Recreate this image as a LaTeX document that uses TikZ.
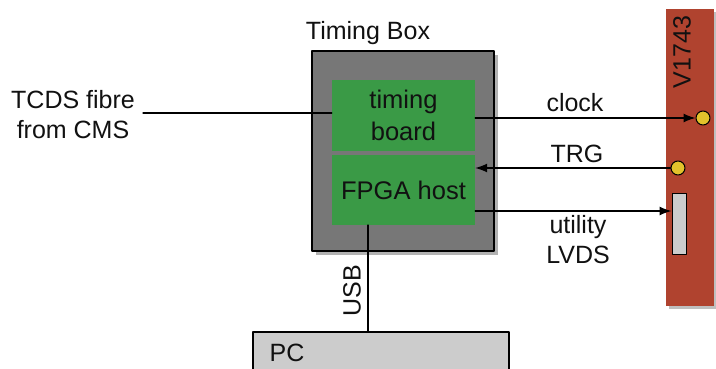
\documentclass[tikz,border=0pt]{standalone}
\usepackage{fontspec}
\setmainfont{Liberation Sans}
\usetikzlibrary{arrows.meta,calc,positioning}
\definecolor{tbGrey}{HTML}{777777}
\definecolor{tbGreen}{HTML}{3A9A46}
\definecolor{tbRed}{HTML}{B0432F}
\definecolor{tbYellow}{HTML}{E2C22C}
\definecolor{tbPC}{HTML}{CCCCCC}
\definecolor{tbInk}{HTML}{111111}

\begin{document}
\begin{tikzpicture}[x=1pt,y=-1pt,>={Latex[length=12pt,width=9pt]},line cap=round,line join=round]
\useasboundingbox[fill=white] (0,0) rectangle (716,369);
\tikzset{lbl/.style={text=tbInk,font=\fontsize{25}{30}\selectfont},board/.style={fill=tbGreen,draw=none,align=center,text=tbInk,font=\fontsize{25.5}{32}\selectfont},sig/.style={draw=black,line width=1.3pt},port/.style={circle,draw=black,fill=tbYellow,line width=1pt,minimum size=14pt,inner sep=0pt}}
% crate and box
\path[fill=black!25] (669,12) rectangle (717,309);
\path[fill=tbRed] (666,9) rectangle (714,306);
\node[lbl,rotate=90] (v1743) at (682,52) {V1743};
\path[fill=black!30] (316,55) rectangle (498,255);
\path[fill=tbGrey,draw=black,line width=1.5pt] (312,51) rectangle (494,251);
\node[lbl] (boxtitle) at (368,33) {Timing Box};
\node[board,minimum width=143pt,minimum height=71pt] (timing) at (403.5,115.5) {timing\\board};
\node[board,minimum width=143pt,minimum height=70pt] (fpga) at (403.5,190) {FPGA host};
\path[fill=tbPC,draw=black,line width=1.3pt] (253,332) rectangle (509,375);
\node[lbl] (pc) at (287,353) {PC};
% ports on the digitiser
\node[port] (clkport) at (703,118) {};
\node[port] (trgport) at (678,168) {};
\node[draw=black,fill=tbPC,line width=1pt,minimum width=14pt,minimum height=61pt,inner sep=0pt] (lvdsport) at (679,223.5) {};
% signals
\node[lbl,align=center] (tcds) at (73,115) {TCDS fibre\\from CMS};
\coordinate (fibre) at (143,113);
\draw[sig] (fibre) -- (fibre -| timing.west);
\draw[sig,->] (timing.east |- clkport) -- (clkport.west);
\node[lbl] (clklbl) at (575,103) {clock};
\draw[sig,->] (trgport.west) -- (fpga.east |- trgport);
\node[lbl] (trglbl) at (577,154) {TRG};
\draw[sig,->] (fpga.east |- 0,211) -- (lvdsport.west |- 0,211);
\node[lbl,align=center] (lvdslbl) at (578,240) {utility\\LVDS};
\coordinate (usbtop) at (368,225);
\draw[sig] (usbtop) -- (usbtop |- 0,332);
\node[lbl,rotate=90] (usblbl) at (352,291) {USB};
\end{tikzpicture}
\end{document}
